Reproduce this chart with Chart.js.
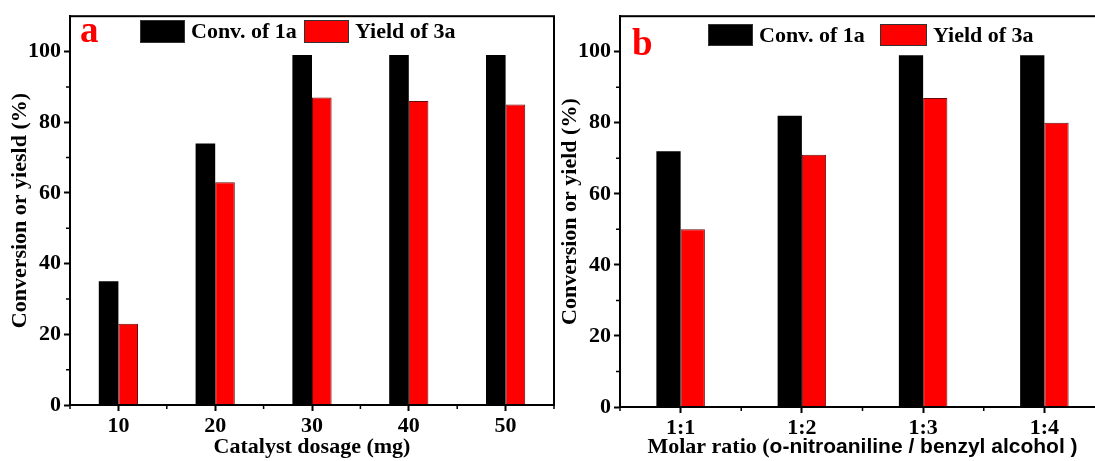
<!DOCTYPE html>
<html>
<head>
<meta charset="utf-8">
<title>Conversion and yield bar charts</title>
<script src="https://cdn.jsdelivr.net/npm/chart.js@4.4.1/dist/chart.umd.min.js"></script>
<style>
  html, body { margin: 0; padding: 0; background: #fff; overflow: hidden; }
  body { width: 1095px; height: 461px; position: relative; }
  .panel { position: absolute; top: 0; height: 461px; }
  #panelA { left: 0; width: 570px; }
  #panelB { left: 556px; width: 560px; }
</style>
</head>
<body>
<div class="panel" id="panelA"><canvas id="chartA"></canvas></div>
<div class="panel" id="panelB"><canvas id="chartB"></canvas></div>
<script>
// (a) catalyst dosage series
const dosageLabels = ['10', '20', '30', '40', '50'];
const dosageConv = [35, 74, 99, 99, 99];
const dosageYield = [23, 63, 87, 86, 85];

// (b) molar ratio series
const ratioLabels = ['1:1', '1:2', '1:3', '1:4'];
const ratioConv = [72, 82, 99, 99];
const ratioYield = [50, 71, 87, 80];

const yTickValues = [0, 20, 40, 60, 80, 100];
const seriesNames = ['Conv. of 1a', 'Yield of 3a'];

const SERIF = '"Liberation Serif", "Times New Roman", serif';
const SANS = '"Liberation Sans", Arial, sans-serif';

// frame box, minor ticks, in-plot legend, panel letter and mixed-font x title
const panelDecor = {
    id: 'panelDecor',
    afterDraw(chart, args, opts) {
        const { ctx, chartArea: a, scales: { x, y } } = chart;
        ctx.save();
        ctx.strokeStyle = '#000';
        ctx.lineWidth = 2;
        ctx.strokeRect(a.left, a.top, a.right - a.left, a.bottom - a.top);

        ctx.lineWidth = 1.5;
        ctx.beginPath();
        for (let i = 0; i < y.ticks.length - 1; i++) {
            const py = y.getPixelForValue((y.ticks[i].value + y.ticks[i + 1].value) / 2);
            ctx.moveTo(a.left - 4, py);
            ctx.lineTo(a.left, py);
        }
        for (let i = 0; i <= chart.data.labels.length; i++) {
            const px = x.getPixelForValue(i - 0.5);
            ctx.moveTo(px, a.bottom);
            ctx.lineTo(px, a.bottom + 4);
        }
        ctx.stroke();

        // legend
        ctx.font = `bold 22px ${SERIF}`;
        ctx.textBaseline = 'middle';
        ctx.textAlign = 'left';
        chart.data.datasets.forEach((ds, i) => {
            const it = opts.legend[i];
            ctx.fillStyle = ds.backgroundColor;
            ctx.fillRect(it.x, opts.legendTop, it.w, opts.legendH);
            ctx.lineWidth = 1;
            ctx.strokeStyle = '#333';
            ctx.strokeRect(it.x + 0.5, opts.legendTop + 0.5, it.w - 1, opts.legendH - 1);
            ctx.fillStyle = '#000';
            ctx.fillText(ds.label, it.x + it.w + 6, opts.legendTop + opts.legendH / 2 + 1);
        });

        // panel letter
        ctx.fillStyle = '#ff0000';
        ctx.font = `bold 37px ${SERIF}`;
        ctx.textBaseline = 'alphabetic';
        ctx.fillText(opts.tag, opts.tagX, opts.tagBase);

        // x title made of a serif part and a sans part
        if (opts.xTitleParts) {
            ctx.fillStyle = '#000';
            ctx.textBaseline = 'middle';
            const parts = opts.xTitleParts.map(p => {
                ctx.font = p.font;
                return { ...p, w: ctx.measureText(p.text).width };
            });
            const total = parts.reduce((s, p) => s + p.w, 0);
            let cx = (a.left + a.right) / 2 - total / 2;
            parts.forEach(p => {
                ctx.font = p.font;
                ctx.fillText(p.text, cx, opts.xTitleY);
                cx += p.w;
            });
        }
        ctx.restore();
    }
};

function makeChart(id, cfg) {
    const tickFont = { family: SERIF, size: 22, weight: 'bold' };
    const titleFont = { family: SERIF, size: 22, weight: 'bold', lineHeight: 1 };
    return new Chart(document.getElementById(id), {
        type: 'bar',
        data: {
            labels: cfg.labels,
            datasets: [
                { label: seriesNames[0], data: cfg.conv, backgroundColor: '#000000', borderWidth: 0,
                  categoryPercentage: cfg.groupWidth, barPercentage: 1 },
                { label: seriesNames[1], data: cfg.yield, backgroundColor: '#ff0000', borderColor: '#6a0a0a', borderWidth: 1,
                  categoryPercentage: cfg.groupWidth, barPercentage: 1 }
            ]
        },
        options: {
            responsive: true,
            maintainAspectRatio: false,
            animation: false,
            layout: { padding: { left: 0, top: cfg.area.top, right: cfg.area.right, bottom: 0 } },
            plugins: {
                legend: { display: false },
                tooltip: { enabled: false },
                panelDecor: cfg.decor
            },
            scales: {
                x: {
                    offset: true,
                    grid: { offset: false, drawOnChartArea: false, tickLength: 6, tickWidth: 2, tickColor: '#000' },
                    border: { color: '#000', width: 2 },
                    ticks: { color: '#000', font: tickFont, padding: 2, maxRotation: 0 },
                    title: cfg.xTitle
                        ? { display: true, text: cfg.xTitle, color: '#000', font: titleFont, padding: { top: 0, bottom: 3 } }
                        : { display: false },
                    afterFit: s => { s.height = cfg.area.xHeight; }
                },
                y: {
                    min: 0,
                    max: 110,
                    afterBuildTicks: s => { s.ticks = yTickValues.map(v => ({ value: v })); },
                    grid: { drawOnChartArea: false, tickLength: 6, tickWidth: 2, tickColor: '#000' },
                    border: { color: '#000', width: 2 },
                    ticks: { color: '#000', font: tickFont, padding: 3 },
                    title: { display: true, text: cfg.yTitle, color: '#000', font: titleFont, padding: { top: cfg.yTitlePad, bottom: 0 } },
                    afterFit: s => { s.width = cfg.area.yWidth; }
                }
            }
        },
        plugins: [panelDecor]
    });
}

makeChart('chartA', {
    labels: dosageLabels,
    conv: dosageConv,
    yield: dosageYield,
    groupWidth: 0.405,
    area: { top: 13, right: 16, xHeight: 56, yWidth: 70 },
    xTitle: 'Catalyst dosage (mg)',
    yTitle: 'Conversion or yiesld (%)',
    yTitlePad: 9,
    decor: {
        tag: 'a', tagX: 80, tagBase: 42,
        legendTop: 20, legendH: 23,
        legend: [{ x: 140, w: 45 }, { x: 304, w: 45 }]
    }
});

makeChart('chartB', {
    labels: ratioLabels,
    conv: ratioConv,
    yield: ratioYield,
    groupWidth: 0.40,
    area: { top: 16, right: 11, xHeight: 54, yWidth: 64 },
    xTitle: null,
    yTitle: 'Conversion or yield (%)',
    yTitlePad: 3,
    decor: {
        tag: 'b', tagX: 76, tagBase: 55,
        legendTop: 24, legendH: 22,
        legend: [{ x: 152, w: 45 }, { x: 324, w: 47 }],
        xTitleY: 447,
        xTitleParts: [
            { text: 'Molar ratio (', font: `bold 22px ${SERIF}` },
            { text: 'o-nitroaniline / benzyl alcohol )', font: `bold 21px ${SANS}` }
        ]
    }
});
</script>
</body>
</html>
